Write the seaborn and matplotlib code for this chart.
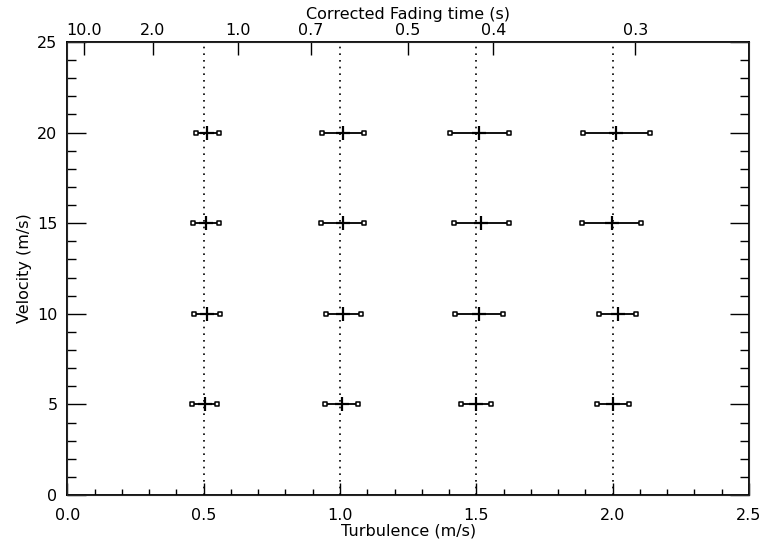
import numpy as np
import pandas as pd
import seaborn as sns
import matplotlib.pyplot as plt
from matplotlib.ticker import NullLocator

# Measured turbulence (centre) and half-width of the error bar, per velocity
velocities = [5, 10, 15, 20]
nominal_turb = [0.5, 1.0, 1.5, 2.0]
turb_v5 = [0.504, 1.006, 1.498, 2.001]
turb_v10 = [0.512, 1.012, 1.510, 2.019]
turb_v15 = [0.510, 1.010, 1.518, 1.996]
turb_v20 = [0.514, 1.010, 1.510, 2.014]
err_v5 = [0.046, 0.061, 0.056, 0.059]
err_v10 = [0.047, 0.064, 0.089, 0.068]
err_v15 = [0.048, 0.078, 0.100, 0.107]
err_v20 = [0.043, 0.077, 0.108, 0.122]

# Top axis: corrected fading time, turbulence = 0.625 / t
fade_ticks = [10.0, 2.0, 1.0, 0.7, 0.5, 0.4, 0.3]
fade_labels = ["10.0", "2.0", "1.0", "0.7", "0.5", "0.4", "0.3"]

df = pd.DataFrame({
    "velocity": np.repeat(velocities, 4),
    "turb": turb_v5 + turb_v10 + turb_v15 + turb_v20,
    "err": err_v5 + err_v10 + err_v15 + err_v20,
})
df["lo"] = df["turb"] - df["err"]
df["hi"] = df["turb"] + df["err"]

sns.set_style("ticks")
plt.rcParams["font.family"] = ["DejaVu Sans"]
plt.rcParams["font.size"] = 11.5
plt.rcParams["text.color"] = "black"
plt.rcParams["axes.labelcolor"] = "black"
plt.rcParams["xtick.color"] = "black"
plt.rcParams["ytick.color"] = "black"

fig = plt.figure(figsize=(7.64, 5.5), dpi=100)
ax = fig.add_axes([0.0881, 0.1, 0.8923, 0.8236])

# dotted reference lines at the nominal turbulence
for x in nominal_turb:
    ax.axvline(x, color="black", lw=1.2, ls=(0, (1, 3)), zorder=1)

# error bars
ax.hlines(df["velocity"], df["lo"], df["hi"], color="#111111", lw=1.4, zorder=2)
ends = pd.concat([
    df[["lo", "velocity"]].rename(columns={"lo": "x"}),
    df[["hi", "velocity"]].rename(columns={"hi": "x"}),
])
sns.scatterplot(data=ends, x="x", y="velocity", marker="s", s=12,
                facecolor="white", edgecolor="black", linewidth=1.1,
                ax=ax, zorder=3)
sns.scatterplot(data=df, x="turb", y="velocity", marker="+", s=110,
                color="black", linewidth=1.6, ax=ax, zorder=4)

ax.set_xlim(0, 2.5)
ax.set_ylim(0, 25)
ax.set_xticks(np.arange(0, 2.51, 0.5))
ax.set_xticks(np.arange(0, 2.51, 0.1), minor=True)
ax.set_yticks(np.arange(0, 26, 5))
ax.set_yticks(np.arange(0, 26, 1), minor=True)
ax.set_xticklabels([f"{v:.1f}" for v in np.arange(0, 2.51, 0.5)])
ax.tick_params(axis="x", which="major", direction="in", length=9, width=1.0,
               top=False, pad=9)
ax.tick_params(axis="x", which="minor", direction="in", length=4.5, width=1.0,
               top=False)
ax.tick_params(axis="y", which="major", direction="in", length=13.5, width=1.0,
               right=True, pad=7)
ax.tick_params(axis="y", which="minor", direction="in", length=6.8, width=1.0,
               right=True)
for s in ax.spines.values():
    s.set_visible(True)
    s.set_linewidth(1.3)
    s.set_color("black")
ax.set_xlabel("Turbulence (m/s)", labelpad=1)
ax.set_ylabel("Velocity (m/s)", labelpad=4)

ax_top = ax.twiny()
ax_top.set_xlim(ax.get_xlim())
ax_top.set_xticks([0.625 / t for t in fade_ticks])
ax_top.set_xticklabels(fade_labels)
ax_top.xaxis.set_minor_locator(NullLocator())
ax_top.tick_params(axis="x", which="major", direction="in", length=9,
                   width=1.0, pad=3)
ax_top.set_xlabel("Corrected Fading time (s)", labelpad=3)

fig.savefig("out.png", dpi=100)
